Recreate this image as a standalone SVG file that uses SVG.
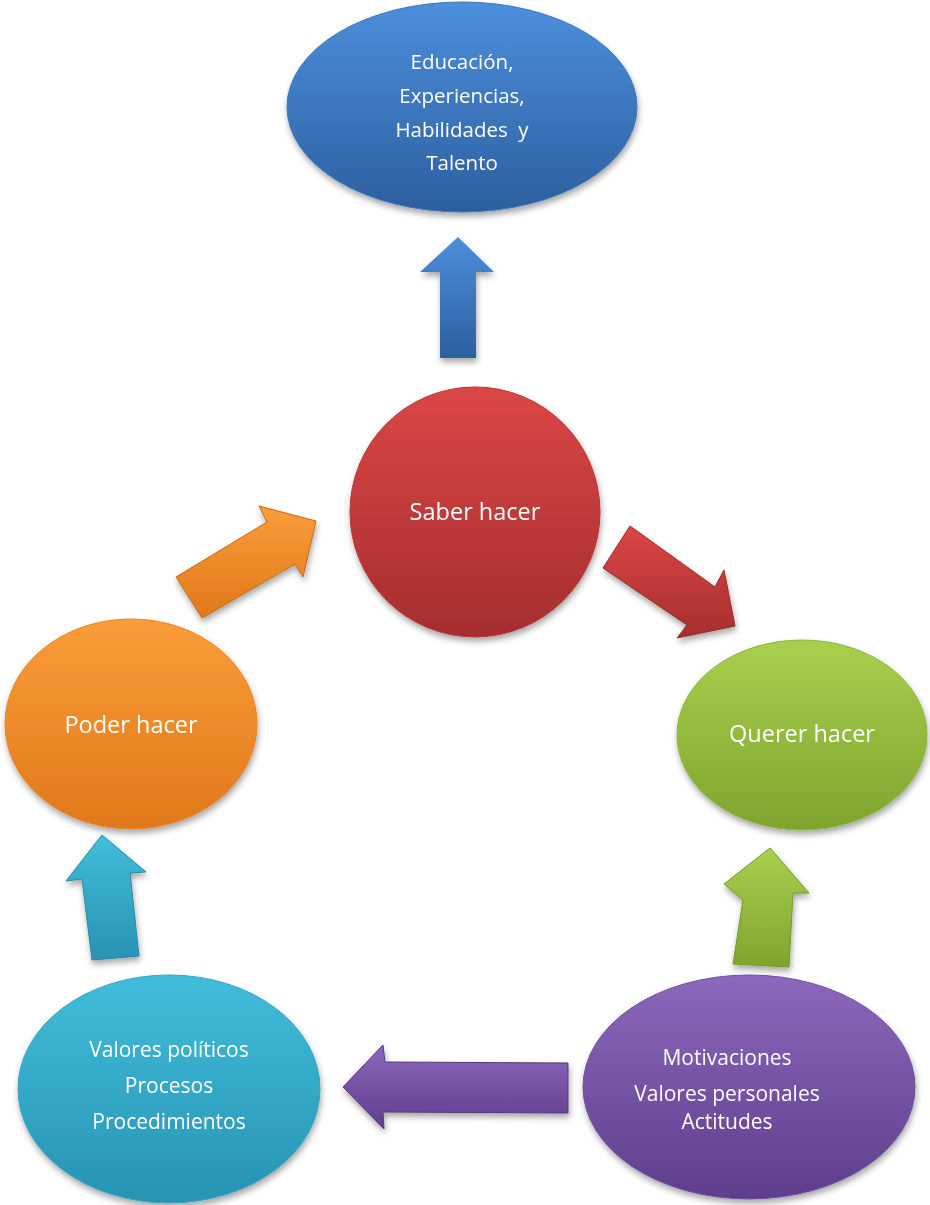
<svg xmlns="http://www.w3.org/2000/svg" width="930" height="1205" viewBox="0 0 930 1205">
<style>
text{font-family:"Open Sans","Liberation Sans",sans-serif;fill:#ffffff;text-anchor:middle;font-size:21px;white-space:pre}
.blue{font-size:20.5px}
.big{font-size:23.5px}
</style>
<defs>
<filter id="sh" x="-20%" y="-20%" width="140%" height="150%"><feDropShadow dx="1" dy="4" stdDeviation="3" flood-color="#000" flood-opacity="0.35"/></filter>
<linearGradient id="gBlue" x1="0" y1="0" x2="0" y2="1"><stop offset="0" stop-color="#4c8fdc"/><stop offset="1" stop-color="#2c5f9f"/></linearGradient>
<linearGradient id="gRed" x1="0" y1="0" x2="0" y2="1"><stop offset="0" stop-color="#dc4646"/><stop offset="1" stop-color="#a52e2e"/></linearGradient>
<linearGradient id="gGreen" x1="0" y1="0" x2="0" y2="1"><stop offset="0" stop-color="#a9d04e"/><stop offset="1" stop-color="#7ea42e"/></linearGradient>
<linearGradient id="gOrange" x1="0" y1="0" x2="0" y2="1"><stop offset="0" stop-color="#fa9d3a"/><stop offset="1" stop-color="#e0781a"/></linearGradient>
<linearGradient id="gCyan" x1="0" y1="0" x2="0" y2="1"><stop offset="0" stop-color="#41bddb"/><stop offset="1" stop-color="#2893b3"/></linearGradient>
<linearGradient id="gPurple" x1="0" y1="0" x2="0" y2="1"><stop offset="0" stop-color="#8c68bc"/><stop offset="1" stop-color="#5e3e8c"/></linearGradient>
</defs>
<g id="connectors" filter="url(#sh)">
<polygon id="arrow-blue" points="458,237 494,272 476,272 476,358 440,358 440,272 420,272" fill="url(#gBlue)"/>
<polygon id="arrow-orange" points="176,577 267,522 259,506 316,521 303,577 295,564 202,618" fill="url(#gOrange)" stroke="#c96a14" stroke-width="1"/>
<polygon id="arrow-red" points="630,526 715,587 724,570 735,626 677,638 687,625 603,568" fill="url(#gRed)" stroke="#9a2a2a" stroke-width="1"/>
<polygon id="arrow-cyan" points="102,835 146,872 130,873 139,956 92,960 82,879 66,881" fill="url(#gCyan)" stroke="#2588a6" stroke-width="1"/>
<polygon id="arrow-green" points="770,848 809,893 793,893 789,967 733,964 743,900 724,884" fill="url(#gGreen)" stroke="#739a28" stroke-width="1"/>
<polygon id="arrow-purple" points="343,1087 383,1045 385,1062 568,1063 568,1113 383,1112 384,1129" fill="url(#gPurple)" stroke="#553880" stroke-width="1"/>
</g>
<g id="node-educacion" filter="url(#sh)">
<ellipse cx="462" cy="107" rx="175" ry="105" fill="url(#gBlue)" stroke="#3a75c0" stroke-width="1"/>
<text class="blue" x="462" y="69">Educación,</text>
<text class="blue" x="462" y="103">Experiencias,</text>
<text class="blue" x="462" y="137">Habilidades  y</text>
<text class="blue" x="462" y="170">Talento</text>
</g>
<g id="node-saber" filter="url(#sh)">
<circle cx="475" cy="512" r="125" fill="url(#gRed)" stroke="#b83636" stroke-width="1"/>
<text class="big" x="475" y="520">Saber hacer</text>
</g>
<g id="node-poder" filter="url(#sh)">
<ellipse cx="131" cy="724" rx="126" ry="105" fill="url(#gOrange)" stroke="#e88420" stroke-width="1"/>
<text class="big" x="131" y="733">Poder hacer</text>
</g>
<g id="node-querer" filter="url(#sh)">
<ellipse cx="802" cy="735" rx="125" ry="95" fill="url(#gGreen)" stroke="#8cb43a" stroke-width="1"/>
<text class="big" x="802" y="742">Querer hacer</text>
</g>
<g id="node-valores-politicos" filter="url(#sh)">
<ellipse cx="169" cy="1089" rx="151" ry="114" fill="url(#gCyan)" stroke="#33a6c4" stroke-width="1"/>
<text x="169" y="1057">Valores políticos</text>
<text x="169" y="1093">Procesos</text>
<text x="169" y="1129">Procedimientos</text>
</g>
<g id="node-motivaciones" filter="url(#sh)">
<ellipse cx="749" cy="1087" rx="166" ry="112" fill="url(#gPurple)" stroke="#6e4ea0" stroke-width="1"/>
<text x="727" y="1065">Motivaciones</text>
<text x="727" y="1101">Valores personales</text>
<text x="727" y="1129">Actitudes</text>
</g>
</svg>
